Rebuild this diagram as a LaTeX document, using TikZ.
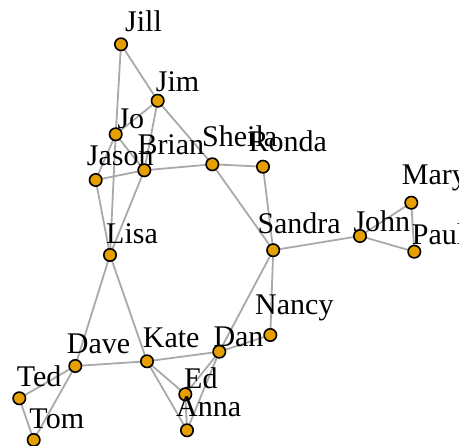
\documentclass[tikz,border=0pt]{standalone}
\usepackage{fontspec}
\setmainfont{Liberation Serif}
\usetikzlibrary{backgrounds}
\definecolor{vfill}{HTML}{E69F00}
\definecolor{egray}{HTML}{A9A9A9}
\begin{document}
\begin{tikzpicture}[x=1pt,y=-1pt,
 vtx/.style={circle,draw=black,line width=1.6pt,fill=vfill,minimum size=12.4pt,inner sep=0pt},
 edge/.style={draw=egray,line width=1.8pt},
 lbl/.style={anchor=base west,inner sep=0pt,font=\fontsize{30}{36}\selectfont}]
\useasboundingbox (0,0) rectangle (459,446);
\clip (0,0) rectangle (459,446);
% vertices
\node[vtx] (Jill) at (121,44.3) {};
\node[vtx] (Jim) at (157.7,100.7) {};
\node[vtx] (Jo) at (115.7,134.3) {};
\node[vtx] (Jason) at (95.7,180) {};
\node[vtx] (Brian) at (144.3,170.3) {};
\node[vtx] (Sheila) at (212.3,164.3) {};
\node[vtx] (Ronda) at (263,166.7) {};
\node[vtx] (Mary) at (411.3,202.7) {};
\node[vtx] (Sandra) at (273.2,250.2) {};
\node[vtx] (John) at (360,236) {};
\node[vtx] (Paul) at (414.3,251.7) {};
\node[vtx] (Lisa) at (110,255) {};
\node[vtx] (Nancy) at (270.3,335) {};
\node[vtx] (Dan) at (219.3,351.7) {};
\node[vtx] (Kate) at (147,361.3) {};
\node[vtx] (Dave) at (75.3,366) {};
\node[vtx] (Ted) at (19.3,398.3) {};
\node[vtx] (Tom) at (33.7,440) {};
\node[vtx] (Ed) at (185.3,394.3) {};
\node[vtx] (Anna) at (187,430.3) {};
% edges (behind vertices)
\begin{pgfonlayer}{background}
\foreach \a/\b in {Jill/Jim,Jill/Jo,Jim/Jo,Jim/Brian,Jim/Sheila,Jo/Jason,Jo/Brian,Jo/Lisa,
 Jason/Brian,Jason/Lisa,Brian/Lisa,Brian/Sheila,Sheila/Ronda,Sheila/Sandra,Ronda/Sandra,
 Sandra/John,Sandra/Nancy,Sandra/Dan,John/Mary,John/Paul,Mary/Paul,Nancy/Dan,Dan/Kate,
 Dan/Ed,Dan/Anna,Kate/Lisa,Kate/Dave,Kate/Ed,Kate/Anna,Dave/Lisa,Dave/Ted,Dave/Tom,
 Ted/Tom,Ed/Anna}
 {\path[edge] (\a.center) -- (\b.center);}
\end{pgfonlayer}
% labels
\node[lbl] (lJill) at (125,31.7) {Jill};
\node[lbl] (lJim) at (155.7,91.7) {Jim};
\node[lbl] (lJo) at (117.3,129) {Jo};
\node[lbl] (lJason) at (86.7,165.7) {Jason};
\node[lbl] (lBrian) at (137.3,155) {Brian};
\node[lbl] (lSheila) at (202,147) {Sheila};
\node[lbl] (lRonda) at (248.3,151.7) {Ronda};
\node[lbl] (lMary) at (401.7,185) {Mary};
\node[lbl] (lJohn) at (353.3,231.7) {John};
\node[lbl] (lSandra) at (257.3,233.3) {Sandra};
\node[lbl] (lPaul) at (411.7,245) {Paul};
\node[lbl] (lLisa) at (106,243.3) {Lisa};
\node[lbl] (lNancy) at (255,315) {Nancy};
\node[lbl] (lDave) at (66.7,353.3) {Dave};
\node[lbl] (lKate) at (142.7,347.3) {Kate};
\node[lbl] (lDan) at (213.3,346.7) {Dan};
\node[lbl] (lTed) at (16.7,386.7) {Ted};
\node[lbl] (lTom) at (29.3,428.3) {Tom};
\node[lbl] (lEd) at (184,388.3) {Ed};
\node[lbl] (lAnna) at (176,416.7) {Anna};
\end{tikzpicture}
\end{document}
